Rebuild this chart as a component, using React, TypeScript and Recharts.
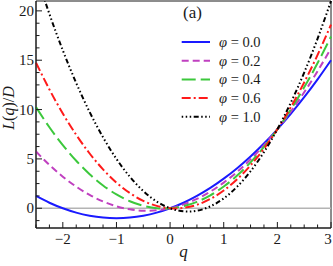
import { Legend, Line, LineChart, ReferenceArea, ReferenceLine, XAxis, YAxis } from "recharts";

// q grid and curve values
const Q = [
  -2.5, -2.25, -2, -1.75, -1.5, -1.25, -1, -0.75, -0.5, -0.25, 0, 0.25, 0.5, 0.75, 1, 1.25, 1.5,
  1.75, 2, 2.25, 2.5, 2.75, 3,
];
const PHI_00 = [
  1.25, 0.56, 0, -0.44, -0.75, -0.94, -1, -0.94, -0.75, -0.44, 0, 0.56, 1.25, 2.06, 3, 4.06, 5.25,
  6.56, 8, 9.56, 11.25, 13.06, 15,
];
const PHI_02 = [
  5.75, 4.39, 3.2, 2.19, 1.35, 0.69, 0.2, -0.11, -0.25, -0.21, 0, 0.39, 0.95, 1.69, 2.6, 3.69, 4.95,
  6.39, 8, 9.79, 11.75, 13.89, 16.2,
];
const PHI_04 = [
  10.25, 8.21, 6.4, 4.81, 3.45, 2.31, 1.4, 0.71, 0.25, 0.01, 0, 0.21, 0.65, 1.31, 2.2, 3.31, 4.65,
  6.21, 8, 10.01, 12.25, 14.71, 17.4,
];
const PHI_06 = [
  14.75, 12.04, 9.6, 7.44, 5.55, 3.94, 2.6, 1.54, 0.75, 0.24, 0, 0.04, 0.35, 0.94, 1.8, 2.94, 4.35,
  6.04, 8, 10.24, 12.75, 15.54, 18.6,
];
const PHI_10 = [
  23.75, 19.69, 16, 12.69, 9.75, 7.19, 5, 3.19, 1.75, 0.69, 0, -0.31, -0.25, 0.19, 1, 2.19, 3.75,
  5.69, 8, 10.69, 13.75, 17.19, 21,
];
const PHI_LABELS = ["0.0", "0.2", "0.4", "0.6", "1.0"];

const X_TICKS = [
  -2.5, -2.25, -2, -1.75, -1.5, -1.25, -1, -0.75, -0.5, -0.25, 0, 0.25, 0.5, 0.75, 1, 1.25, 1.5,
  1.75, 2, 2.25, 2.5, 2.75, 3,
];
const Y_TICKS = [
  -1.25, 0, 1.25, 2.5, 3.75, 5, 6.25, 7.5, 8.75, 10, 11.25, 12.5, 13.75, 15, 16.25, 17.5, 18.75, 20,
];

const data = Q.map((q, i) => ({
  q,
  p0: PHI_00[i],
  p2: PHI_02[i],
  p4: PHI_04[i],
  p6: PHI_06[i],
  p10: PHI_10[i],
}));

const series = [
  { key: "p0", color: "#1a1aff", dash: undefined },
  { key: "p2", color: "#c040c0", dash: "7 4" },
  { key: "p4", color: "#3cc83c", dash: "14 5" },
  { key: "p6", color: "#ff1a1a", dash: "9 3 2 3" },
  { key: "p10", color: "#000000", dash: "1.5 2.5 1.5 2.5 1.5 2.5 5 2.5" },
];

const INK = "#1a1a1a";
const serif = { fontFamily: '"Liberation Serif", "DejaVu Serif", serif' };

const fmt = (v: number) => (v < 0 ? `\u2212${Math.abs(v)}` : `${v}`);

function XTick(props: any) {
  const { x, y, payload } = props;
  const v = payload.value as number;
  const major = Number.isInteger(v);
  // keep the last label inside the picture
  const tx = Math.min(x, 333 - 5);
  return (
    <g>
      <line x1={x} x2={x} y1={y} y2={y - (major ? 6 : 3.5)} stroke={INK} strokeWidth={1} />
      {major && (
        <text x={tx} y={y + 16} textAnchor="middle" style={serif} fontSize={15} fill={INK}>
          {fmt(v)}
        </text>
      )}
    </g>
  );
}

function YTick(props: any) {
  const { x, y, payload } = props;
  const v = payload.value as number;
  const major = v % 5 === 0;
  return (
    <g>
      <line x1={x} x2={x + (major ? 6 : 3.5)} y1={y} y2={y} stroke={INK} strokeWidth={1} />
      {major && (
        <text x={x - 2} y={y + 5} textAnchor="end" style={serif} fontSize={15} fill={INK}>
          {fmt(v)}
        </text>
      )}
    </g>
  );
}

function LegendBox() {
  return (
    <svg width={130} height={130} style={{ overflow: "visible" }}>
      <text x={13} y={18} style={serif} fontSize={17} fill={INK}>
        (a)
      </text>
      {series.map((s, i) => {
        const cy = 42 + i * 18.7;
        return (
          <g key={s.key}>
            <line
              x1={11.7}
              x2={40}
              y1={cy}
              y2={cy}
              stroke={s.color}
              strokeWidth={2}
              strokeDasharray={s.dash}
            />
            <text x={49} y={cy + 5} style={serif} fontSize={14.5} fill={INK}>
              <tspan fontStyle="italic">φ</tspan> = {PHI_LABELS[i]}
            </text>
          </g>
        );
      })}
    </svg>
  );
}

export default function App() {
  return (
    <div style={{ position: "absolute", left: 0, top: 0, background: "#fff" }}>
      <LineChart width={333} height={266} data={data} margin={{ top: 1, right: 2, bottom: 0, left: 0 }}>
        <XAxis
          dataKey="q"
          type="number"
          domain={[-2.5, 3]}
          ticks={X_TICKS}
          interval={0}
          tickSize={0}
          tickMargin={0}
          tick={<XTick />}
          axisLine={{ stroke: INK }}
          height={38}
          label={{
            content: () => (
              <text x={183.5} y={257} textAnchor="middle" style={serif} fontSize={17} fontStyle="italic" fill={INK}>
                q
              </text>
            ),
          }}
        />
        <YAxis
          type="number"
          domain={[-2, 21]}
          allowDataOverflow
          ticks={Y_TICKS}
          interval={0}
          tickSize={0}
          tickMargin={0}
          tick={<YTick />}
          axisLine={{ stroke: INK }}
          width={36}
          label={{
            content: () => (
              <text transform="translate(14,108) rotate(-90)" textAnchor="middle" style={serif} fontSize={16} fill={INK}>
                <tspan fontStyle="italic">L</tspan>(<tspan fontStyle="italic">q</tspan>)/
                <tspan fontStyle="italic">D</tspan>
              </text>
            ),
          }}
        />
        <ReferenceLine y={0} stroke="#b4b4b4" strokeWidth={1.5} />
        {series.map((s) => (
          <Line
            key={s.key}
            dataKey={s.key}
            type="natural"
            stroke={s.color}
            strokeWidth={2}
            strokeDasharray={s.dash}
            dot={false}
            activeDot={false}
            isAnimationActive={false}
          />
        ))}
        <ReferenceArea x1={-2.5} x2={3} y1={-2} y2={21} fill="none" stroke={INK} strokeWidth={1} />
        <Legend
          layout="vertical"
          align="center"
          verticalAlign="middle"
          content={() => <LegendBox />}
          wrapperStyle={{ left: 170, top: 0, width: 130, height: 130 }}
        />
      </LineChart>
    </div>
  );
}
